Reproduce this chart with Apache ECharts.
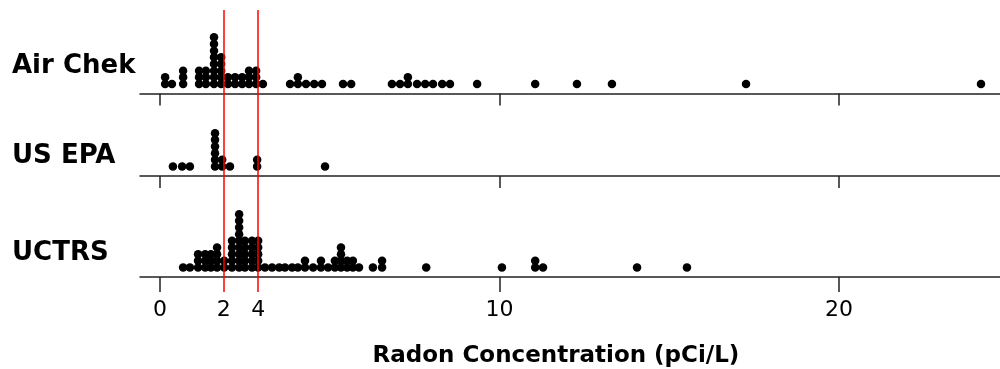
<!DOCTYPE html>
<html>
<head>
<meta charset="utf-8">
<script src="https://cdn.jsdelivr.net/npm/echarts@6.0.0/dist/echarts.min.js"></script>
<style>
  html, body { margin: 0; padding: 0; background: #fff; }
  #chart { width: 1000px; height: 369px; }
</style>
</head>
<body>
<div id="chart"></div>
<script>
// dot columns: x position (pCi/L) and how many dots are stacked there
const groupNames = ['Air Chek', 'US EPA', 'UCTRS'];

const airChekX = [0.15, 0.35, 0.68, 1.15, 1.35, 1.59, 1.80, 2.00, 2.21, 2.42, 2.62, 2.83, 3.03,
  3.83, 4.06, 4.30, 4.54, 4.77, 5.39, 5.63,
  6.83, 7.07, 7.30, 7.57, 7.81, 8.04, 8.31, 8.54, 9.34, 11.05, 12.28, 13.31, 17.26, 24.18];
const airChekN = [2, 1, 3, 3, 3, 8, 5, 2, 2, 2, 3, 3, 1,
  1, 2, 1, 1, 1, 1, 1,
  1, 1, 2, 1, 1, 1, 1, 1, 1, 1, 1, 1, 1, 1];

const usEpaX = [0.38, 0.65, 0.88, 1.62, 1.83, 2.06, 2.86, 4.86];
const usEpaN = [1, 1, 1, 6, 2, 1, 2, 1];

const uctrsX = [0.68, 0.88, 1.12, 1.33, 1.50, 1.68, 1.89, 2.12, 2.33, 2.50, 2.71, 2.89,
  3.09, 3.30, 3.51, 3.68, 3.89, 4.06, 4.27, 4.51, 4.74, 4.95, 5.15, 5.33, 5.51, 5.68, 5.86,
  6.27, 6.54, 7.84, 10.07, 11.05, 11.28, 14.05, 15.52];
const uctrsN = [1, 1, 3, 3, 3, 4, 2, 5, 9, 5, 5, 5,
  1, 1, 1, 1, 1, 1, 2, 1, 2, 1, 2, 4, 2, 2, 1,
  1, 2, 1, 1, 2, 1, 1, 1];

const refLineX = [1.88, 2.89];
const refLineLabels = ['2', '4'];
const tickValues = [0, 10, 20];
const axisTitle = 'Radon Concentration (pCi/L)';

const xMin = -0.59;
const xMax = 24.74;

const FONT = 'DejaVu Sans';
const axisY = [93.5, 176, 277];
const gridH = 80;

function stackDots(xs, ns) {
  const pts = [];
  xs.forEach((x, i) => {
    for (let k = 0; k < ns[i]; k++) pts.push([x, k]);
  });
  return pts;
}

const groups = [
  stackDots(airChekX, airChekN),
  stackDots(usEpaX, usEpaN),
  stackDots(uctrsX, uctrsN),
];

const chart = echarts.init(document.getElementById('chart'));

const labelCenters = [68, 158, 255];

const grids = axisY.map((y) => ({ left: 140, right: 0, top: y - gridH, height: gridH }));
grids.push({ left: 140, right: 0, top: 10, bottom: 77 });

const xAxes = axisY.map((y, i) => ({
  type: 'value',
  gridIndex: i,
  min: xMin,
  max: xMax,
  splitLine: { show: false },
  axisLine: { onZero: false, lineStyle: { color: '#222', width: 1.5 } },
  axisTick: {
    customValues: tickValues,
    length: i === 2 ? 15 : 12,
    lineStyle: { color: '#222', width: 1.5 },
  },
  axisLabel: {
    show: i === 2,
    customValues: tickValues,
    margin: 22,
    fontSize: 22,
    color: '#000',
    fontFamily: FONT,
  },
  name: i === 2 ? axisTitle : '',
  nameLocation: 'middle',
  nameGap: 68,
  nameTextStyle: {
    fontSize: 23,
    fontWeight: 'bold',
    color: '#000',
    fontFamily: FONT,
    padding: [0, 28, 0, 0],
  },
}));
xAxes.push({ type: 'value', gridIndex: 3, min: xMin, max: xMax, show: false });

const yAxes = axisY.map((y, i) => ({
  type: 'value',
  gridIndex: i,
  min: -1.42,
  max: 10.58,
  show: false,
}));
yAxes.push({ type: 'value', gridIndex: 3, min: 0, max: 1, show: false });

const series = groups.map((pts, i) => ({
  type: 'scatter',
  xAxisIndex: i,
  yAxisIndex: i,
  symbol: 'circle',
  symbolSize: 8.5,
  itemStyle: { color: '#000', opacity: 1 },
  data: pts,
}));
series.push({
  type: 'scatter',
  xAxisIndex: 3,
  yAxisIndex: 3,
  data: [],
  markLine: {
    silent: true,
    symbol: ['none', 'none'],
    lineStyle: { color: '#ff0000', width: 1.5, type: 'solid' },
    label: {
      show: true,
      position: 'start',
      distance: 7,
      fontSize: 22,
      color: '#000',
      fontFamily: FONT,
    },
    data: refLineX.map((v, i) => ({
      xAxis: v,
      label: { formatter: refLineLabels[i] },
    })),
  },
});

const option = {
  animation: false,
  backgroundColor: '#fff',
  title: groupNames.map((name, i) => ({
    text: name,
    left: 12,
    top: labelCenters[i] - 15,
    padding: 0,
    textStyle: { fontSize: 26, fontWeight: 'bold', color: '#000', fontFamily: FONT },
  })),
  grid: grids,
  xAxis: xAxes,
  yAxis: yAxes,
  series: series,
};

chart.setOption(option);
</script>
</body>
</html>
